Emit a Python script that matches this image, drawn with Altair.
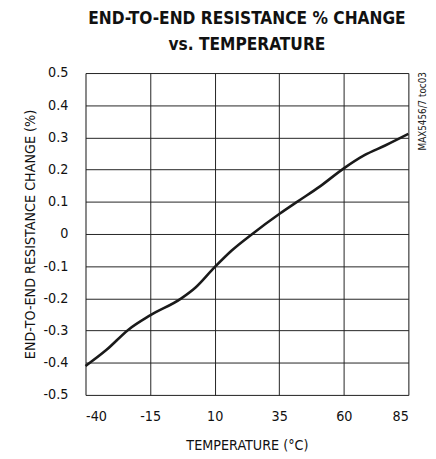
import altair as alt
import pandas as pd

temps = [-40, -31.75, -23.5, -15, -2.9, 2.5, 10, 16.5, 24.7, 35, 42.5, 50.8, 60, 68, 76, 85]
change = [-0.41, -0.359, -0.298, -0.253, -0.2, -0.167, -0.103, -0.052, 0.001, 0.062, 0.103, 0.148, 0.204, 0.245, 0.275, 0.311]
x_ticks = [-40, -15, 10, 35, 60, 85]
y_ticks = [-0.5, -0.4, -0.3, -0.2, -0.1, 0, 0.1, 0.2, 0.3, 0.4, 0.5]

df = pd.DataFrame({"t": temps, "c": change})
FONT = "'DejaVu Sans Condensed', 'Liberation Sans Narrow', 'Liberation Sans', sans-serif"

W, H = 329, 328

line = alt.Chart(df).mark_line(color="#1a1a1a", strokeWidth=2.6, interpolate="monotone").encode(
    x=alt.X("t:Q", scale=alt.Scale(domain=[-40, 85], nice=False, zero=False),
            axis=alt.Axis(values=x_ticks, title="TEMPERATURE (°C)", labelExpr="'' + datum.value",
                          grid=True, gridColor="#222", gridWidth=1, ticks=False, domain=False,
                          labelFont=FONT, labelFontSize=14.5, labelColor="#111", labelPadding=15,
                          titleFont=FONT, titleFontSize=14.5, titleFontWeight="normal", titleColor="#111",
                          titlePadding=16)),
    y=alt.Y("c:Q", scale=alt.Scale(domain=[-0.5, 0.5], nice=False, zero=False),
            axis=alt.Axis(values=y_ticks, title="END-TO-END RESISTANCE CHANGE (%)", labelExpr="'' + datum.value",
                          grid=True, gridColor="#222", gridWidth=1, ticks=False, domain=False,
                          labelFont=FONT, labelFontSize=14.5, labelColor="#111", labelPadding=18,
                          titleFont=FONT, titleFontSize=14.5, titleFontWeight="normal", titleColor="#111",
                          titlePadding=6)),
)

note = alt.Chart(pd.DataFrame({"s": ["MAX5456/7 toc03"]})).mark_text(
    font=FONT, fontSize=10, angle=270, align="right", baseline="middle", color="#222"
).encode(x=alt.value(W + 15), y=alt.value(-1), text="s:N")

chart = alt.layer(line, note).properties(
    width=W, height=H,
    autosize=alt.AutoSizeParams(type="none"),
    padding={"left": 79, "top": 62, "right": 20, "bottom": 61},
    title=alt.TitleParams(["END-TO-END RESISTANCE % CHANGE", "vs. TEMPERATURE"], font=FONT,
                          fontSize=17.5, fontWeight="bold", color="#111", anchor="middle",
                          lineHeight=26, offset=12),
).configure_view(stroke="#111", strokeWidth=2.8).configure(background="white")

chart.save("out.html", embed_options={"renderer": "svg", "actions": False})
